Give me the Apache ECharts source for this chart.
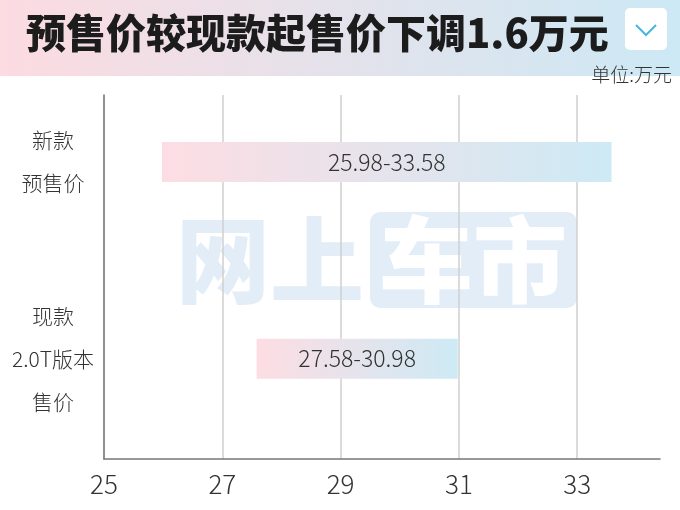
<!DOCTYPE html>
<html>
<head>
<meta charset="utf-8">
<script src="https://cdn.jsdelivr.net/npm/echarts@6/dist/echarts.min.js"></script>
<style>html,body{margin:0;padding:0;background:#fff;}#main{width:680px;height:510px;}</style>
</head>
<body>
<div id="main"></div>
<script>
const titleText = '预售价较现款起售价下调1.6万元';
const unitText = '单位:万元';
const categories = ['新款\n预售价', '现款\n2.0T版本\n售价'];
const categoryIndex = [0, 1];
const priceMin = [25.98, 27.58];
const priceMax = [33.58, 30.98];
const xTicks = [25, 27, 29, 31, 33];
const watermarkA = '网上';
const watermarkB = '车市';

const chart = echarts.init(document.getElementById('main'), null, {renderer: 'canvas'});
const cjk = '"Noto Sans CJK SC", "Noto Sans", sans-serif';

const barData = categoryIndex.map((c, i) => [priceMin[i], priceMax[i], c]);

const option = {
  backgroundColor: '#fff',
  animation: false,
  title: [
    {
      text: titleText, left: 26, top: 10, padding: 0,
      textStyle: {fontFamily: cjk, fontSize: 40, fontWeight: 900, color: '#1c1c1c', lineHeight: 45}
    },
    {
      text: unitText, right: 8, top: 64, padding: 0,
      textStyle: {fontFamily: cjk, fontSize: 19, fontWeight: 300, color: '#333', lineHeight: 22}
    }
  ],
  graphic: [
    {
      type: 'rect', z: -20, silent: true,
      shape: {x: 0, y: 0, width: 680, height: 76},
      style: {fill: new echarts.graphic.LinearGradient(0, 0, 1, 0, [
        {offset: 0, color: '#fcdbe1'}, {offset: 1, color: '#cce9f5'}
      ])}
    },
    {
      type: 'rect', z: 5, silent: true,
      shape: {x: 625, y: 8, width: 42, height: 42, r: 5},
      style: {fill: '#ffffff'}
    },
    {
      type: 'polyline', z: 6, silent: true,
      shape: {points: [[636, 25], [646, 35], [656, 25]]},
      style: {stroke: '#49b6da', lineWidth: 2, fill: null}
    },
    {
      type: 'text', z: -10, silent: true, x: 176, y: 260,
      style: {text: watermarkA, fontFamily: cjk, fontSize: 94, fontWeight: 900, fill: '#e3edf7', textVerticalAlign: 'middle'}
    },
    {
      type: 'rect', z: -10, silent: true,
      shape: {x: 370, y: 212, width: 207, height: 96, r: 10},
      style: {fill: '#e3edf7'}
    },
    {
      type: 'text', z: -9, silent: true, x: 473, y: 260,
      style: {text: watermarkB, fontFamily: cjk, fontSize: 94, fontWeight: 900, fill: '#ffffff', textAlign: 'center', textVerticalAlign: 'middle'}
    }
  ],
  grid: {left: 104, right: 20, top: 95, bottom: 51, containLabel: false},
  xAxis: {
    type: 'value', min: 25, max: 34.4, position: 'bottom',
    axisLine: {show: true, onZero: false, lineStyle: {color: '#777', width: 1.5}},
    axisTick: {show: false, customValues: xTicks},
    axisLabel: {customValues: xTicks, fontFamily: cjk, fontSize: 26, fontWeight: 300, color: '#333', margin: 12},
    splitLine: {show: true, lineStyle: {color: '#cfcfcf', width: 1.5}}
  },
  yAxis: {
    type: 'value', inverse: true, min: -0.34, max: 1.51,
    axisLine: {show: true, onZero: false, lineStyle: {color: '#777', width: 1.5}},
    axisTick: {show: false, customValues: categoryIndex},
    axisLabel: {
      customValues: categoryIndex, align: 'center', margin: 51,
      formatter: v => categories[v],
      fontFamily: cjk, fontSize: 21, fontWeight: 300, color: '#333', lineHeight: 43
    },
    splitLine: {show: false}
  },
  series: [{
    type: 'custom',
    data: barData,
    encode: {x: [0, 1], y: 2},
    renderItem: function (params, api) {
      const s = api.coord([api.value(0), api.value(2)]);
      const e = api.coord([api.value(1), api.value(2)]);
      const h = 40;
      const i = params.dataIndex;
      return {
        type: 'rect',
        shape: {x: s[0], y: s[1] - h / 2, width: e[0] - s[0], height: h},
        style: {fill: new echarts.graphic.LinearGradient(0, 0, 1, 0, [
          {offset: 0, color: '#fddde3'}, {offset: 1, color: '#cdeaf5'}
        ])},
        textContent: {
          style: {
            text: priceMin[i].toFixed(2) + '-' + priceMax[i].toFixed(2),
            fontFamily: cjk, fontSize: 23, fontWeight: 300, fill: '#333'
          }
        },
        textConfig: {position: 'inside'}
      };
    }
  }]
};
chart.setOption(option);
</script>
</body>
</html>
